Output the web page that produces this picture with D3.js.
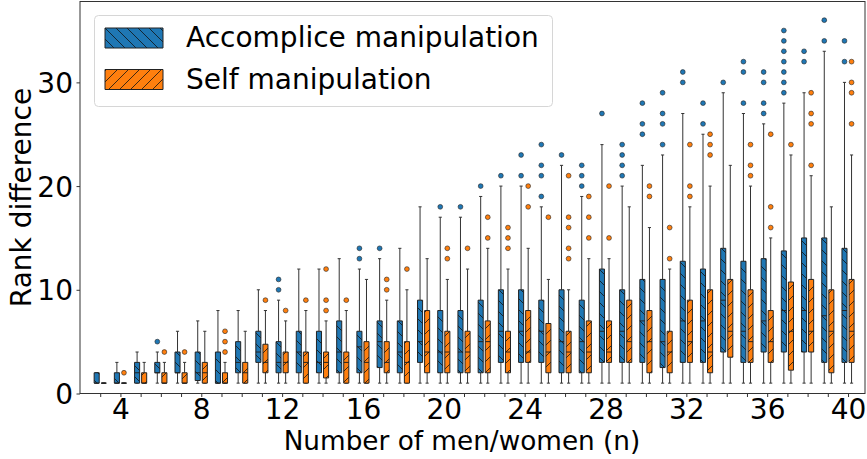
<!DOCTYPE html>
<html><head><meta charset="utf-8">
<script src="https://cdn.jsdelivr.net/npm/d3@7"></script>
<style>body{margin:0;background:#fff} svg{display:block;font-family:"DejaVu Sans",sans-serif}</style>
</head><body><svg id="c" width="867" height="459"></svg>
<script>
// ---- data ----
const nValues = [3,4,5,6,7,8,9,10,11,12,13,14,15,16,17,18,19,20,21,22,23,24,25,26,27,28,29,30,31,32,33,34,35,36,37,38,39,40];
const xTickLabels = [4,8,12,16,20,24,28,32,36,40];
const yTickLabels = [0,10,20,30];
const seriesNames = ["Accomplice manipulation","Self manipulation"];

// Accomplice manipulation: quartiles, whisker ends, outliers
const accQ1  = [1,1,1,2,2,1.25,1,2,3,2,2,2,2,2,2.5,2,3,2,2,2,3,3,3,2,2,3,3,3,2.5,3,3,4,3,4,4,4,3,3];
const accMed = [1,1,2,2,2,2,1,3,4,3,4,3,4,4.5,5,4,5,4,4,5,6,6,6,5,5,6,6,7,5,7,7,9,6,7,8,8,7.5,8];
const accQ3  = [2,2,3,3,4,4,4,5,6,5,6,6,7,6,7,7,9,8,8,9,10,10,9,10,9,12,10,11,11,12.75,12,14,12.75,13,13.75,15,15,14];
const accLo  = [1,1,1,1,1,1,1,1,1,1,1,1,1,1,1,1,1,1,1,1,1,1,1,1,1,1,1,1,1,1,1,1,1,1,1,1,1,1];
const accHi  = [2,3,4,4,6,7,8,8,10,9,12,12,13,12,13,14,18,17,17,19,20,20,18,22,19,24,20,22,23,27,25,29,27,26,28,29,33,30];
const accOut = [[],[],[],[5],[],[],[],[],[],[10,11],[],[],[],[13,14],[14],[],[],[18],[18],[20],[21],[21,23],[19,21,22,24],[23],[20,21,22],[27],[21,22,23,24],[25,26,28],[24,26,27,29],[30,31],[26,28],[30],[28,31,32],[27,28,30,31],[29,30,31,32,33,34,35],[32,33],[34,36],[32,34]];

// Self manipulation
const selfQ1  = [1,1,1,1,1,1,1,1,2,2,1,1.5,1,1,2,1,2,2,2,2,2,3,2,2,2,3,3,2,2,3,2,3.5,3,3,2.25,4,2,3];
const selfMed = [1,1,1,1,1,2,1,2,3,3,3,3,3,3,3,3,4,4,4,5,4,4,4,4,4,4,5,5,4,5,4,6,5,5,6,6,6,6];
const selfQ3  = [1,1,2,2,2,3,2,3,4.75,4,4,4,4,5,5,5,8,6,6,7,6,8,6.75,6,7,7,9,8,6,9,10,11,10,8,10.75,11,10,11];
const selfLo  = [1,1,1,1,1,1,1,1,1,1,1,1,1,1,1,1,1,1,1,1,1,1,1,1,1,1,1,1,1,1,1,1,1,1,1,1,1,1];
const selfHi  = [1,1,3,3,3,6,3,6,8,7,8,7,8,11,9,10,13,11,12,14,12,14,11,10,13,13,18,16,12,18,20,22,20,15,23,21,18,23];
const selfOut = [[],[2],[],[4],[4],[],[4,5,6],[],[9],[8],[9],[8,9,12],[9],[],[10,11],[12],[],[13,14],[14],[15,17],[14,15,16],[18,20],[17],[13,14,16,17,21],[15,17,19],[15,20],[],[19,20],[13,16],[19,20,24],[23,24,25],[],[21,22,24],[16,18,25],[24],[22,26,27,29],[],[26,29,30,32]];

// ---- drawing ----
const svg = d3.select("#c");
const x = d3.scaleLinear().domain([2, 40.84]).range([80, 865]);
const y = d3.scaleLinear().domain([0, 37.8]).range([393.5, 1.5]);
const colors = ["#1f77b4", "#ff7f0e"];
const offsets = [-0.175, 0.175];
const boxW = 0.3;
const edge = "#222";

const defs = svg.append("defs");
function hatch(id, back) {
  const p = defs.append("pattern").attr("id", id).attr("patternUnits", "userSpaceOnUse")
    .attr("width", 11).attr("height", 11);
  const d = back ? "M-2,-2L13,13 M-2,9L2,13 M9,-2L13,2" : "M-2,13L13,-2 M-2,2L2,-2 M9,13L13,9";
  p.append("path").attr("d", d).attr("stroke", "#111").attr("stroke-width", 0.8).attr("fill", "none");
}
hatch("hA", true);
hatch("hS", false);
const hatchIds = ["hA", "hS"];

const series = [
  {q1: accQ1, med: accMed, q3: accQ3, lo: accLo, hi: accHi, out: accOut},
  {q1: selfQ1, med: selfMed, q3: selfQ3, lo: selfLo, hi: selfHi, out: selfOut}
];

const plot = svg.append("g");
series.forEach((s, si) => {
  const g = plot.append("g");
  nValues.forEach((n, i) => {
    const cx = x(n + offsets[si]);
    const hw = (x(boxW) - x(0)) / 2 - 0.5;
    const capW = hw / 2 + 0.3;
    const gg = g.append("g");
    gg.append("line").attr("x1", cx).attr("x2", cx).attr("y1", y(s.q1[i])).attr("y2", y(s.lo[i]))
      .attr("stroke", "#333").attr("stroke-width", 1);
    gg.append("line").attr("x1", cx).attr("x2", cx).attr("y1", y(s.q3[i])).attr("y2", y(s.hi[i]))
      .attr("stroke", "#333").attr("stroke-width", 1);
    [s.lo[i], s.hi[i]].forEach(v => {
      gg.append("line").attr("x1", cx - capW).attr("x2", cx + capW).attr("y1", y(v)).attr("y2", y(v))
        .attr("stroke", "#333").attr("stroke-width", 1);
    });
    const x0 = cx - hw, x1 = cx + hw, y3 = y(s.q3[i]), y1 = y(s.q1[i]);
    const d = `M${x0},${y3}H${x1}V${y1}H${x0}Z`;
    gg.append("path").attr("d", d).attr("fill", colors[si]);
    gg.append("path").attr("d", d).attr("fill", `url(#${hatchIds[si]})`);
    gg.append("path").attr("d", d).attr("fill", "none").attr("stroke", edge).attr("stroke-width", 1);
    gg.append("line").attr("x1", x0).attr("x2", x1).attr("y1", y(s.med[i])).attr("y2", y(s.med[i]))
      .attr("stroke", edge).attr("stroke-width", 1);
    gg.selectAll("circle.f").data(s.out[i]).join("circle").attr("class", "f")
      .attr("cx", cx).attr("cy", v => y(v)).attr("r", 2.4)
      .attr("fill", colors[si]).attr("stroke", "#222").attr("stroke-width", 0.6);
  });
});

// axes
const fs = 28;
const xAxis = d3.axisBottom(x).tickValues(nValues).tickSize(3.5).tickSizeOuter(0).tickPadding(3)
  .tickFormat(d => xTickLabels.includes(d) ? d : "");
const gx = svg.append("g").attr("transform", "translate(0,393.5)").call(xAxis);
gx.select(".domain").remove();
gx.selectAll("text").filter(function() { return this.textContent === ""; }).remove();
gx.selectAll("text").attr("font-size", fs).attr("fill", "#000").attr("font-family", "DejaVu Sans").attr("dy", "0.68em");
gx.selectAll("line").attr("stroke", "#333");

const yAxis = d3.axisLeft(y).tickValues(yTickLabels).tickSize(3.5).tickSizeOuter(0).tickPadding(3.5);
const gy = svg.append("g").attr("transform", "translate(80,0)").call(yAxis);
gy.select(".domain").remove();
gy.selectAll("text").attr("font-size", fs).attr("fill", "#000").attr("font-family", "DejaVu Sans").attr("dy", "0.36em");
gy.selectAll("line").attr("stroke", "#333");

// frame
svg.append("rect").attr("x", 80).attr("y", 1.5).attr("width", x(40.84) - 80).attr("height", 392)
  .attr("fill", "none").attr("stroke", "#333").attr("stroke-width", 1);

// axis titles
svg.append("text").attr("x", 462).attr("y", 450).attr("text-anchor", "middle")
  .attr("font-size", 26.3).text("Number of men/women (n)");
svg.append("text").attr("transform", `translate(31,${(1.5 + 393.5) / 2}) rotate(-90)`).attr("text-anchor", "middle")
  .attr("font-size", fs).text("Rank difference");

// legend
const lg = svg.append("g");
lg.append("rect").attr("x", 94.5).attr("y", 15.5).attr("width", 458).attr("height", 91).attr("rx", 4)
  .attr("fill", "#fff").attr("fill-opacity", 0.8).attr("stroke", "#d6d6d6").attr("stroke-width", 1);
seriesNames.forEach((name, si) => {
  const top = 28 + si * 41.5;
  const r = `M105,${top}H163V${top + 20}H105Z`;
  lg.append("path").attr("d", r).attr("fill", colors[si]);
  lg.append("path").attr("d", r).attr("fill", `url(#${hatchIds[si]})`);
  lg.append("path").attr("d", r).attr("fill", "none").attr("stroke", edge).attr("stroke-width", 1);
  lg.append("text").attr("x", 186).attr("y", top + 19).attr("font-size", fs).text(name);
});
</script></body></html>
